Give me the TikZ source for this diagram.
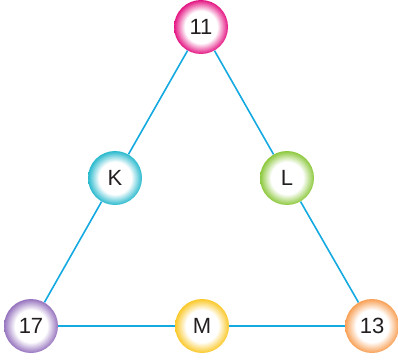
\documentclass[tikz,border=0pt]{standalone}
\usepackage{fontspec}
\setmainfont{Liberation Sans}
\pgfdeclareradialshading[ballcol]{ballshade}{\pgfpoint{0bp}{0bp}}{color(0bp)=(white); color(15bp)=(white); color(25bp)=(ballcol); color(50bp)=(ballcol)}
\colorlet{ballcol}{white}
\definecolor{linecol}{RGB}{20,170,225}
\definecolor{txtcol}{RGB}{35,31,32}
\definecolor{c11}{RGB}{228,20,130}
\definecolor{cK}{RGB}{40,185,205}
\definecolor{cL}{RGB}{140,200,60}
\definecolor{c17}{RGB}{150,115,190}
\definecolor{cM}{RGB}{250,200,40}
\definecolor{c13}{RGB}{248,160,85}
\tikzset{
  ball/.style={circle, minimum size=54pt, inner sep=0pt, text=txtcol,
    font=\fontsize{22}{26}\selectfont,
    /utils/exec={\colorlet{ballcol}{#1}}, shading=ballshade},
  link/.style={draw=linecol, line width=1.6pt}
}
\begin{document}
\begin{tikzpicture}[x=1pt,y=1pt]
\useasboundingbox (0,0) rectangle (398,359);
\node[ball=c11] (n11) at (201,332) {11};
\node[ball=cK] (K) at (115,181) {K};
\node[ball=cL] (L) at (287,181) {L};
\node[ball=c17] (n17) at (31,33) {17};
\node[ball=cM] (M) at (202,33) {M};
\node[ball=c13] (n13) at (372,33) {13};
\draw[link] (n11) -- (K);
\draw[link] (K) -- (n17);
\draw[link] (n11) -- (L);
\draw[link] (L) -- (n13);
\draw[link] (n17) -- (M);
\draw[link] (M) -- (n13);
\end{tikzpicture}
\end{document}
